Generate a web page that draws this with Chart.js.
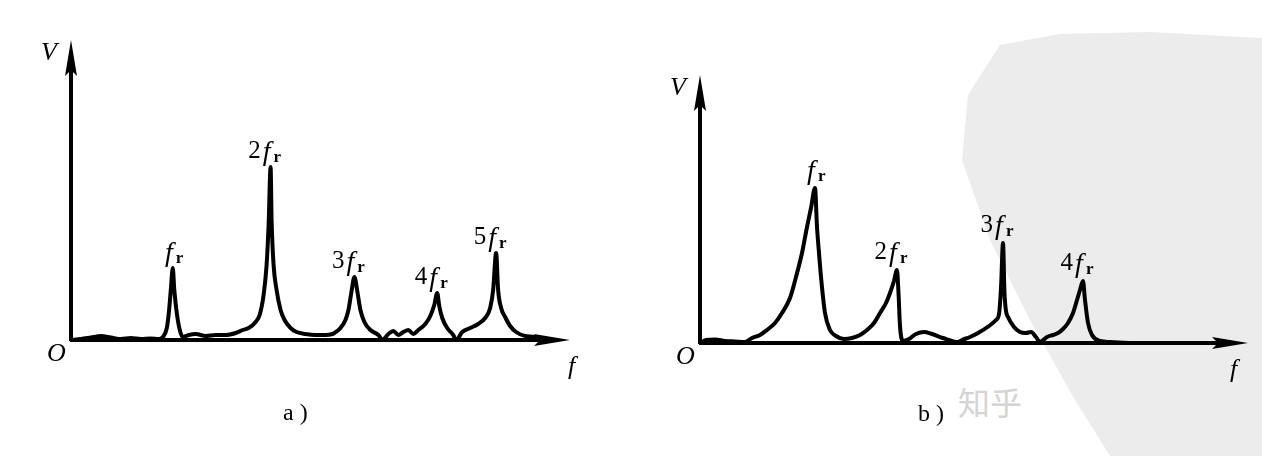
<!DOCTYPE html>
<html>
<head>
<meta charset="utf-8">
<script src="https://cdn.jsdelivr.net/npm/chart.js@4/dist/chart.umd.min.js"></script>
<style>
    body { margin: 0; width: 1262px; height: 456px; background: #fff; overflow: hidden; position: relative; }
    #blob {
        position: absolute; left: 0; top: 0; width: 1262px; height: 456px; background: #ececec;
        clip-path: polygon(1000px 45px, 1060px 34px, 1150px 32px, 1262px 38px, 1262px 456px, 1110px 456px,
            1075px 400px, 1030px 320px, 990px 240px, 962px 160px, 968px 95px);
    }
    #mark { position: absolute; left: 958px; top: 378px; font: 32px "Noto Sans CJK SC", sans-serif; color: #d4d4d4; }
    .wrap { position: absolute; }
    #wrapA { left: 20px; top: 20px; width: 600px; height: 420px; }
    #wrapB { left: 650px; top: 50px; width: 612px; height: 390px; }
</style>
</head>
<body>
<div id="blob"></div>
<div id="mark">知乎</div>
<div class="wrap" id="wrapA"><canvas id="chartA"></canvas></div>
<div class="wrap" id="wrapB"><canvas id="chartB"></canvas></div>
<script>
// Spectrum a): f in arbitrary units, V in arbitrary units
const freqA = [0, 1.0, 2.0, 3.0, 4.0, 5.0, 6.0, 7.0, 8.0, 8.8,
    9.2, 9.6, 9.8, 10.0, 10.2, 10.35, 10.6, 10.9, 11.2,
    11.8, 12.5, 13.5, 14.5, 15.5, 16.5, 17.2,
    17.8, 18.5, 18.9, 19.3, 19.6, 19.8, 20.0, 20.1, 20.3, 20.6, 21.0, 21.4, 22.0, 22.6,
    23.5, 24.5, 25.5, 26.2,
    26.4, 27.0, 27.5, 27.8, 28.1, 28.4, 28.7, 29.0, 29.4, 30.0, 30.8, 31.2,
    31.8, 32.3, 32.8, 33.3, 33.8, 34.3,
    34.8, 35.5, 36.0, 36.4, 36.7, 36.9, 37.2, 37.7, 38.3, 38.6,
    39.2, 40.0, 40.8, 41.5, 42.0, 42.3, 42.6, 42.8, 43.1, 43.5, 44.0, 44.6, 45.5, 46.5, 47.0];
const ampA = [0, 0.1, 0.25, 0.4, 0.25, 0.1, 0.2, 0.1, 0.15, 0.1,
    0.3, 1.2, 2.7, 5.0, 7.2, 5.0, 2.7, 1.0, 0.3,
    0.5, 0.6, 0.4, 0.5, 0.5, 0.7, 1.0,
    1.2, 1.8, 2.5, 4.5, 7.5, 11.5, 17.3, 12.0, 7.5, 5.0, 3.0, 2.0, 1.2, 0.8,
    0.6, 0.5, 0.5, 0.6,
    0.7, 1.2, 2.0, 3.0, 4.8, 6.3, 4.8, 3.0, 1.8, 1.0, 0.5, 0,
    0.6, 0.9, 0.5, 0.8, 1.0, 0.6,
    1.0, 1.6, 2.4, 3.5, 4.7, 3.4, 2.2, 1.2, 0.5, 0,
    0.8, 1.2, 1.6, 2.2, 3.2, 5.0, 8.7, 5.0, 3.2, 2.3, 1.4, 0.8, 0.4, 0.3, 0];
const harmA = ['', '2', '3', '4', '5'];
const peakFreqA = [10.2, 20.0, 28.4, 36.7, 42.6];

// Spectrum b)
const freqB = [0, 0.6, 1.5, 2.5, 3.5, 4.5,
    5.2, 6.0, 6.7, 7.5, 8.2, 9.0, 9.6, 10.2, 10.7, 11.1, 11.5, 11.7, 11.9, 12.1, 12.5, 13.0, 13.6, 14.4,
    15.2, 16.0, 16.7, 17.4, 18.0, 18.6, 19.0, 19.4, 19.7, 19.85, 20.0, 20.3,
    20.9, 21.6, 22.4, 23.2, 24.3, 25.8,
    26.2, 27.0, 27.8, 28.9, 29.6, 29.9, 30.1, 30.3, 30.45, 30.6, 30.8, 31.4, 32.0, 32.6, 33.1, 33.6, 34.0,
    34.7, 35.3, 35.8, 36.3, 36.8, 37.3, 37.7, 38.0, 38.3, 38.5, 38.8, 39.2, 40.0, 41.0, 43.0];
const ampB = [0, 0.3, 0.35, 0.2, 0.15, 0.1,
    0.5, 0.8, 1.3, 2.0, 3.0, 4.5, 6.6, 9.0, 11.6, 13.5, 15.5, 11.6, 9.0, 6.6, 3.0, 1.3, 0.7, 0.4,
    0.5, 0.8, 1.3, 2.0, 3.0, 4.0, 5.0, 6.2, 7.3, 5.0, 1.7, 0.2,
    0.4, 0.9, 1.1, 0.9, 0.5, 0.1,
    0.3, 0.6, 1.0, 1.7, 2.3, 2.9, 5.5, 10.0, 5.0, 3.2, 2.6, 1.6, 1.1, 1.0, 1.1, 0.6, 0.1,
    0.6, 0.8, 1.0, 1.4, 2.0, 3.0, 4.3, 5.3, 6.2, 4.3, 2.0, 0.8, 0.2, 0.1, 0];
const harmB = ['', '2', '3', '4'];
const peakFreqB = [11.5, 19.7, 30.3, 38.3];

const SERIF = '"Liberation Serif", "DejaVu Serif", serif';

function drawArrowAxes(chart, opts) {
    const ctx = chart.ctx;
    const x0 = chart.scales.x.getPixelForValue(0);
    const y0 = chart.scales.y.getPixelForValue(0);
    const top = chart.chartArea.top;
    const right = chart.chartArea.right + opts.tipOut;
    ctx.save();
    ctx.strokeStyle = '#000';
    ctx.fillStyle = '#000';
    ctx.lineWidth = 4;
    ctx.beginPath();
    ctx.moveTo(x0, y0 + 1);
    ctx.lineTo(x0, top + 20);
    ctx.moveTo(x0 - 1, y0);
    ctx.lineTo(right - 20, y0);
    ctx.stroke();
    // arrow heads
    ctx.beginPath();
    ctx.moveTo(x0, top);
    ctx.lineTo(x0 - 6, top + 36);
    ctx.lineTo(x0, top + 30);
    ctx.lineTo(x0 + 6, top + 36);
    ctx.closePath();
    ctx.fill();
    ctx.beginPath();
    ctx.moveTo(right, y0);
    ctx.lineTo(right - 36, y0 - 6);
    ctx.lineTo(right - 30, y0);
    ctx.lineTo(right - 36, y0 + 6);
    ctx.closePath();
    ctx.fill();

    // axis letters
    ctx.font = 'italic 26px ' + SERIF;
    ctx.textBaseline = 'alphabetic';
    ctx.fillText('V', x0 - 30, top + 20);
    ctx.fillText('O', x0 - 24, y0 + 21);
    ctx.fillText('f', right + opts.fDx, y0 + opts.fDy);
    // caption below the axis
    ctx.font = '24px ' + SERIF;
    ctx.fillText(opts.caption, x0 + opts.capDx, y0 + opts.capDy);
    ctx.restore();
}

function drawPeakLabels(chart, harm, peaks, lift) {
    const ctx = chart.ctx;
    const ds = chart.data.datasets[0].data;
    ctx.save();
    ctx.fillStyle = '#000';
    ctx.textBaseline = 'alphabetic';
    peaks.forEach((pf, i) => {
        let best = ds[0];
        ds.forEach(p => { if (Math.abs(p.x - pf) < Math.abs(best.x - pf)) best = p; });
        const px = chart.scales.x.getPixelForValue(best.x);
        const py = chart.scales.y.getPixelForValue(best.y) - lift;
        ctx.font = 'italic 28px ' + SERIF;
        const fw = ctx.measureText('f').width;
        const fx = px - 4 - fw / 2;
        ctx.fillText('f', fx, py);
        ctx.font = 'bold 17px ' + SERIF;
        ctx.fillText('r', fx + fw + 3, py + 2);
        if (harm[i]) {
            ctx.font = '25px ' + SERIF;
            const dw = ctx.measureText(harm[i]).width;
            ctx.fillText(harm[i], fx - dw - 2, py - 2);
        }
    });
    ctx.restore();
}

function makeChart(id, freq, amp, xMax, yMax, padding, harm, peaks, axisOpts) {
    const points = freq.map((f, i) => ({ x: f, y: amp[i] }));
    return new Chart(document.getElementById(id), {
        type: 'line',
        data: {
            datasets: [{
                data: points,
                borderColor: '#000',
                borderWidth: 4,
                pointRadius: 0,
                cubicInterpolationMode: 'monotone',
                fill: false,
                clip: false
            }]
        },
        options: {
            responsive: true,
            maintainAspectRatio: false,
            animation: false,
            layout: { padding: padding },
            plugins: { legend: { display: false }, tooltip: { enabled: false } },
            scales: {
                x: { type: 'linear', min: 0, max: xMax, display: false },
                y: { type: 'linear', min: 0, max: yMax, display: false }
            }
        },
        plugins: [{
            id: 'axesAndLabels',
            afterDatasetsDraw(chart) {
                drawArrowAxes(chart, axisOpts);
                drawPeakLabels(chart, harm, peaks, axisOpts.lift);
            }
        }]
    });
}

document.addEventListener('DOMContentLoaded', () => {
    makeChart('chartA', freqA, ampA, 49.5, 30,
        { left: 51, right: 55, top: 20, bottom: 100 }, harmA, peakFreqA,
        { tipOut: 5, fDx: -2, fDy: 34, caption: 'a )', capDx: 212, capDy: 80, lift: 7 });
    makeChart('chartB', freqB, ampB, 54, 26.8,
        { left: 50, right: 22, top: 25, bottom: 97 }, harmB, peakFreqB,
        { tipOut: 8, fDx: -18, fDy: 34, caption: 'b )', capDx: 218, capDy: 78, lift: 9 });
});
</script>
</body>
</html>
